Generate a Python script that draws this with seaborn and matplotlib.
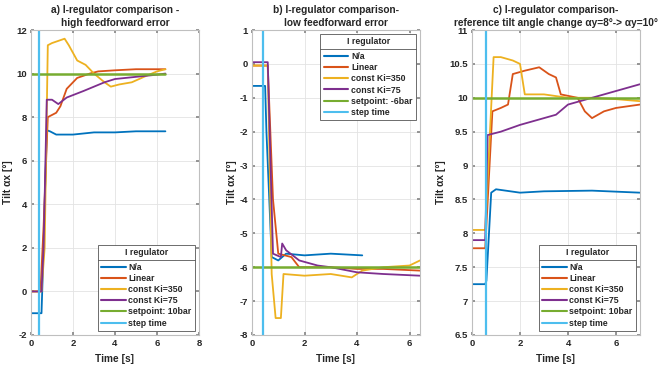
import matplotlib
matplotlib.use("Agg")
import matplotlib.pyplot as plt
import seaborn as sns
import pandas as pd
from matplotlib.lines import Line2D

sns.set_theme(style="whitegrid")
plt.rcParams['font.family'] = ['Liberation Sans', 'DejaVu Sans']
plt.rcParams['font.weight'] = 'bold'

labels = ["N/a", "Linear", "const Ki=350", "const Ki=75"]
colors = ["#0072BD", "#D95319", "#EDB120", "#7E2F8E"]
sp_color = "#77AC30"
step_color = "#4DBEEE"

# ---- panel a ----
a_na_t = [0, 0.5, 0.55, 0.75, 0.9, 1.2, 2.0, 3.0, 4.0, 5.0, 6.4]
a_na_y = [-1.0, -1.0, 0.5, 7.4, 7.35, 7.2, 7.2, 7.3, 7.3, 7.35, 7.35]
a_lin_t = [0, 0.45, 0.6, 0.8, 1.2, 1.4, 1.7, 2.2, 2.8, 3.2, 4.0, 5.0, 6.4]
a_lin_y = [0, 0, 3.0, 8.0, 8.2, 8.5, 9.3, 9.8, 10.0, 10.1, 10.15, 10.2, 10.2]
a_k350_t = [0, 0.5, 0.65, 0.8, 1.0, 1.6, 1.8, 2.2, 2.6, 3.0, 3.5, 3.8, 4.2, 4.8, 5.5, 6.0, 6.4]
a_k350_y = [0, 0, 2.0, 11.3, 11.4, 11.6, 11.3, 10.6, 10.4, 10.0, 9.6, 9.4, 9.5, 9.6, 9.9, 10.1, 10.2]
a_k75_t = [0, 0.5, 0.6, 0.75, 1.0, 1.3, 1.7, 2.5, 3.0, 3.5, 4.0, 5.0, 6.0, 6.4]
a_k75_y = [0, 0, 2.0, 8.8, 8.8, 8.6, 8.9, 9.2, 9.4, 9.6, 9.75, 9.85, 9.95, 10.0]
a_sp_t = [0, 6.4]
a_sp_y = [10, 10]
a_step = 0.4

# ---- panel b ----
b_na_t = [0, 0.5, 0.55, 0.75, 1.0, 1.3, 2.0, 3.0, 4.2]
b_na_y = [-0.65, -0.65, -2.0, -5.7, -5.8, -5.6, -5.65, -5.6, -5.65]
b_lin_t = [0, 0.6, 0.8, 1.0, 1.5, 1.8, 3.0, 4.0, 5.0, 6.4]
b_lin_y = [-0.05, -0.05, -4.0, -5.6, -5.7, -6.0, -6.0, -6.05, -6.05, -6.1]
b_k350_t = [0, 0.6, 0.75, 0.9, 1.1, 1.2, 2.0, 3.0, 3.8, 4.2, 5.0, 6.0, 6.4]
b_k350_y = [-0.05, -0.05, -6.2, -7.5, -7.5, -6.2, -6.25, -6.2, -6.3, -6.1, -6.0, -5.95, -5.8]
b_k75_t = [0, 0.6, 0.8, 1.1, 1.15, 1.3, 1.8, 2.5, 3.0, 4.0, 5.0, 6.4]
b_k75_y = [0.05, 0.05, -5.6, -5.7, -5.3, -5.5, -5.8, -5.95, -6.0, -6.15, -6.2, -6.25]
b_sp_t = [0, 6.4]
b_sp_y = [-6, -6]
b_step = 0.4

# ---- panel c ----
c_na_t = [0, 0.55, 0.6, 0.8, 1.0, 2.0, 3.0, 5.0, 7.0]
c_na_y = [7.25, 7.25, 7.3, 8.6, 8.65, 8.6, 8.62, 8.63, 8.6]
c_lin_t = [0, 0.55, 0.85, 1.2, 1.5, 1.7, 2.2, 2.8, 3.2, 3.5, 3.7, 4.4, 4.7, 5.0, 5.5, 6.0, 7.0]
c_lin_y = [7.78, 7.78, 9.8, 9.85, 9.9, 10.35, 10.4, 10.45, 10.35, 10.3, 10.05, 10.0, 9.8, 9.7, 9.8, 9.85, 9.9]
c_k350_t = [0, 0.55, 0.75, 0.9, 1.2, 1.7, 2.0, 2.2, 3.0, 4.0, 5.0, 6.0, 7.0]
c_k350_y = [8.05, 8.05, 9.5, 10.6, 10.6, 10.55, 10.5, 10.05, 10.05, 10.0, 10.0, 9.98, 9.95]
c_k75_t = [0, 0.55, 0.65, 1.2, 2.0, 2.5, 3.5, 4.0, 5.0, 6.0, 7.0]
c_k75_y = [7.9, 7.9, 9.45, 9.5, 9.6, 9.65, 9.75, 9.9, 10.0, 10.1, 10.2]
c_sp_t = [0, 7.0]
c_sp_y = [10, 10]
c_step = 0.6

panels = [
    dict(series=[(a_na_t, a_na_y), (a_lin_t, a_lin_y), (a_k350_t, a_k350_y), (a_k75_t, a_k75_y)],
         sp=(a_sp_t, a_sp_y), sp_label="setpoint: 10bar", step=a_step,
         xlim=(0, 8), ylim=(-2, 12), xticks=[0, 2, 4, 6, 8], yticks=list(range(-2, 13, 2)),
         title="a) I-regulator comparison -\nhigh feedforward error", loc="lower right",
         left=31),
    dict(series=[(b_na_t, b_na_y), (b_lin_t, b_lin_y), (b_k350_t, b_k350_y), (b_k75_t, b_k75_y)],
         sp=(b_sp_t, b_sp_y), sp_label="setpoint: -6bar", step=b_step,
         xlim=(0, 6.4), ylim=(-8, 1), xticks=[0, 2, 4, 6], yticks=list(range(-8, 2)),
         title="b) I-regulator comparison-\nlow feedforward error", loc="upper right",
         left=252),
    dict(series=[(c_na_t, c_na_y), (c_lin_t, c_lin_y), (c_k350_t, c_k350_y), (c_k75_t, c_k75_y)],
         sp=(c_sp_t, c_sp_y), sp_label="setpoint: 10bar", step=c_step,
         xlim=(0, 7), ylim=(6.5, 11), xticks=[0, 2, 4, 6], yticks=[6.5, 7, 7.5, 8, 8.5, 9, 9.5, 10, 10.5, 11],
         title="c) I-regulator comparison-\nreference tilt angle change \u03b1y=8\u00b0-> \u03b1y=10\u00b0",
         loc="lower right", left=472),
]

W, H = 667, 376
fig = plt.figure(figsize=(W / 100, H / 100), dpi=100)

legends = []
for p in panels:
    ax = fig.add_axes([p["left"] / W, (H - 335) / H, 168 / W, 305 / H])
    ax.set_facecolor("white")
    for (t, y), lab, col in zip(p["series"], labels, colors):
        df = pd.DataFrame({"t": t, "y": y})
        sns.lineplot(data=df, x="t", y="y", ax=ax, color=col, lw=1.3, label=lab, sort=False)
    sdf = pd.DataFrame({"t": p["sp"][0], "y": p["sp"][1]})
    sns.lineplot(data=sdf, x="t", y="y", ax=ax, color=sp_color, lw=1.8, label=p["sp_label"])
    ax.axvline(p["step"], color=step_color, lw=1.6, label="step time")
    ax.set_xlim(*p["xlim"])
    ax.set_ylim(*p["ylim"])
    ax.set_xticks(p["xticks"])
    ax.set_yticks(p["yticks"])
    ax.set_yticklabels([f"{v:g}" for v in p["yticks"]])
    ax.tick_params(labelsize=6.8, pad=3, length=2, direction="in", color="#888888",
                   bottom=True, left=True, top=True, right=True)
    for lbl in ax.get_xticklabels() + ax.get_yticklabels():
        lbl.set_fontweight("bold")
    ax.set_xlabel("Time [s]", fontsize=7.3, fontweight="bold", labelpad=4)
    ax.set_ylabel("Tilt \u03b1x [\u00b0]", fontsize=7.3, fontweight="bold", labelpad=2)
    ax.set_title(p["title"], fontsize=7.3, fontweight="bold", pad=3, linespacing=1.35)
    ax.grid(True, color="#e3e3e3", lw=0.6)
    for s in ax.spines.values():
        s.set_visible(True)
        s.set_color("#bfbfbf")
        s.set_linewidth(0.8)
    leg = ax.legend(title="I regulator", loc=p["loc"], fontsize=6.3, title_fontsize=6.3,
                    frameon=True, fancybox=False, framealpha=1, edgecolor="#555555",
                    handlelength=2.8, handletextpad=0.3, borderpad=0.4, labelspacing=0.25,
                    borderaxespad=0.45)
    leg.get_frame().set_linewidth(0.6)
    leg.get_title().set_fontweight("bold")
    leg._legend_box.sep = 4
    for t in leg.get_texts():
        t.set_fontweight("bold")
    for h in leg.get_lines():
        h.set_linewidth(1.5)
    legends.append(leg)

fig.canvas.draw()
inv = fig.transFigure.inverted()
for leg in legends:
    fb = leg.get_frame().get_window_extent()
    tb = leg.get_title().get_window_extent()
    eb = leg.get_texts()[0].get_window_extent()
    ysep = (tb.y0 + eb.y1) / 2
    (x0, y0) = inv.transform((fb.x0, ysep))
    (x1, _) = inv.transform((fb.x1, ysep))
    fig.add_artist(Line2D([x0, x1], [y0, y0], transform=fig.transFigure, color="#555555", lw=0.6))

fig.savefig("out.png", dpi=100, facecolor="white")
